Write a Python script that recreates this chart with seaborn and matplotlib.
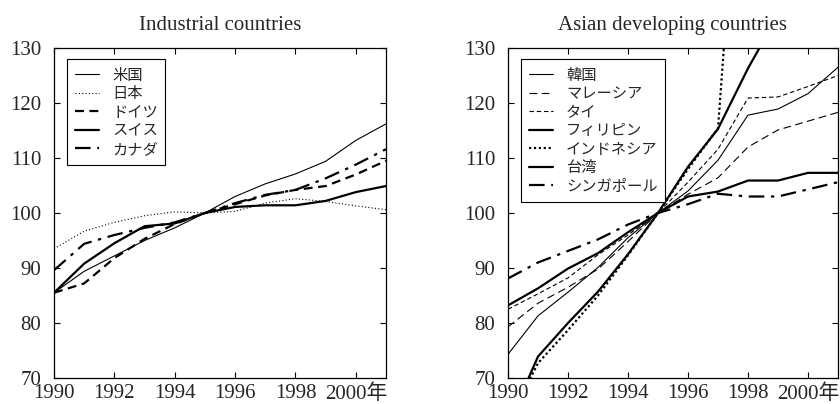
import matplotlib
matplotlib.use("Agg")
import matplotlib.pyplot as plt
import seaborn as sns
import pandas as pd

sns.set_style("ticks")
plt.rcParams["font.family"] = ["Liberation Serif", "Noto Sans CJK JP"]

years = list(range(1990, 2002))

# Industrial countries (1995 = 100)
us = [85.5, 89.4, 92.2, 95.0, 97.3, 100.0, 103.0, 105.3, 107.1, 109.4, 113.2, 116.2]
japan = [93.5, 96.7, 98.3, 99.5, 100.2, 100.0, 100.3, 101.8, 102.6, 102.1, 101.3, 100.6]
germany = [85.5, 87.2, 91.8, 95.3, 98.0, 100.0, 101.6, 103.2, 104.2, 104.9, 107.0, 109.5]
swiss = [85.5, 90.8, 94.5, 97.6, 98.1, 100.0, 101.1, 101.4, 101.4, 102.2, 103.8, 104.9]
canada = [89.6, 94.4, 96.0, 97.3, 98.3, 100.0, 101.8, 103.3, 104.2, 106.3, 108.8, 111.6]

# Asian developing countries (1995 = 100)
korea = [74.3, 81.3, 85.6, 90.1, 95.5, 100.0, 104.0, 109.6, 117.8, 118.9, 121.7, 126.5]
malaysia = [79.3, 83.6, 86.5, 89.8, 94.8, 100.0, 103.4, 106.4, 112.0, 115.1, 116.7, 118.3]
thailand = [82.5, 85.3, 88.2, 92.4, 96.0, 100.0, 105.6, 111.6, 120.9, 121.1, 123.0, 125.0]
philippines = [61.5, 73.9, 80.0, 85.7, 92.5, 100.0, 108.4, 115.3, 126.3, 136.0, 142.0, 151.0]
indonesia = [62.0, 72.7, 78.7, 85.0, 92.3, 100.0, 108.0, 115.4, 190.0, 225.0, 234.0, 260.0]
taiwan = [83.2, 86.3, 89.9, 92.7, 96.5, 100.0, 103.0, 103.9, 105.9, 105.9, 107.3, 107.3]
singapore = [88.1, 91.0, 93.1, 95.2, 97.9, 100.0, 101.6, 103.5, 103.0, 103.0, 104.3, 105.6]

xtick_vals = [1990, 1992, 1994, 1996, 1998, 2000]
xtick_labels = ["1990", "1992", "1994", "1996", "1998", "2000年"]
ytick_vals = [70, 80, 90, 100, 110, 120, 130]

thin, thick = 0.8, 1.6
left_series = [
    ("米国", us, thin, "-"),
    ("日本", japan, thin, (0, (1, 2))),
    ("ドイツ", germany, thick, (0, (4, 2.5))),
    ("スイス", swiss, thick, "-"),
    ("カナダ", canada, thick, (0, (7, 3, 1.5, 3))),
]
right_series = [
    ("韓国", korea, thin, "-"),
    ("マレーシア", malaysia, thin, (0, (7, 4))),
    ("タイ", thailand, thin, (0, (4, 2.5))),
    ("フィリピン", philippines, thick, "-"),
    ("インドネシア", indonesia, thick, (0, (1, 1.2))),
    ("台湾", taiwan, thick, "-"),
    ("シンガポール", singapore, thick, (0, (7, 3, 1.5, 3))),
]

fig = plt.figure(figsize=(8.4, 4.04), dpi=100)
ax_l = fig.add_axes([54 / 840, 26 / 404, 332 / 840, 330 / 404])
ax_r = fig.add_axes([508 / 840, 26 / 404, 330 / 840, 330 / 404])


def draw_panel(ax, series, title):
    for name, vals, lw, ls in series:
        df = pd.DataFrame({"year": years, "value": vals})
        sns.lineplot(data=df, x="year", y="value", ax=ax, color="black",
                     linewidth=lw, linestyle=ls, label=name)
    ax.set_xlim(1990, 2001)
    ax.set_ylim(70, 130)
    ax.set_xticks(xtick_vals)
    ax.set_xticklabels(xtick_labels)
    ax.set_yticks(ytick_vals)
    ax.set_xlabel("")
    ax.set_ylabel("")
    ax.tick_params(direction="in", length=4, width=0.8, top=True, right=True,
                   labelsize=15, color="black")
    ax.tick_params(axis="x", pad=4.5)
    ax.tick_params(axis="y", pad=9)
    for sp in ax.spines.values():
        sp.set_visible(True)
        sp.set_linewidth(0.9)
        sp.set_color("black")
    ax.set_title(title, fontsize=15, pad=13, family="Liberation Serif")
    w = ax.get_position().width * 840
    h = ax.get_position().height * 404
    leg = ax.legend(loc="upper left", bbox_to_anchor=(13 / w, 1 - 11 / h),
                    borderaxespad=0, frameon=True, fancybox=False,
                    edgecolor="black", framealpha=1, handlelength=1.6,
                    handletextpad=0.85, labelspacing=0.1, borderpad=0.5,
                    prop={"family": ["Noto Sans CJK JP"], "size": 11})
    leg.get_frame().set_linewidth(0.8)


draw_panel(ax_l, left_series, "Industrial countries")
draw_panel(ax_r, right_series, "Asian developing countries")

fig.savefig("out.png", dpi=100, facecolor="white")
